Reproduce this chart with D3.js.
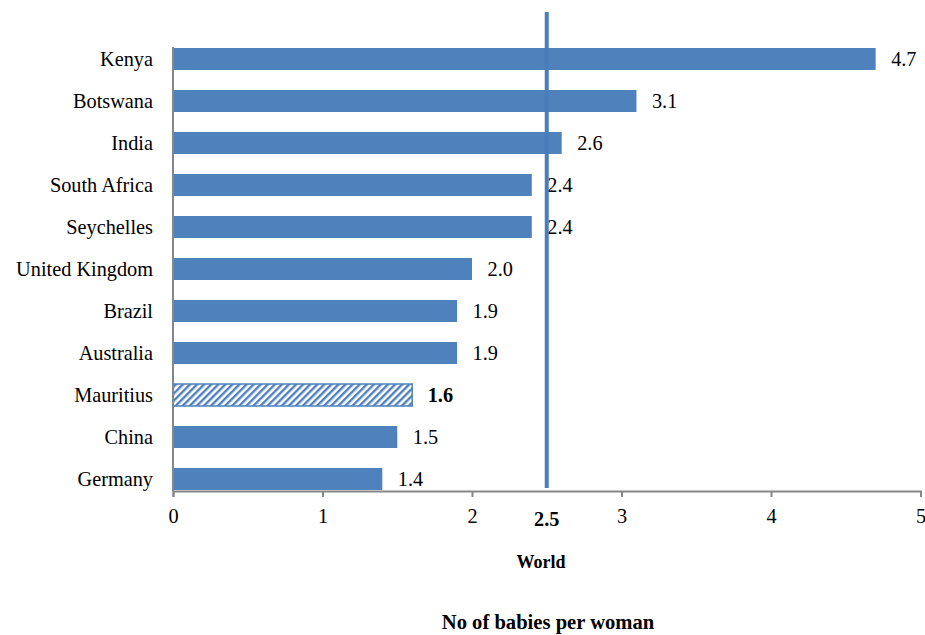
<!DOCTYPE html>
<html>
<head>
<meta charset="utf-8">
<script src="https://cdn.jsdelivr.net/npm/d3@7"></script>
<style>
  html, body { margin: 0; padding: 0; background: #ffffff; }
  svg { display: block; font-family: "Liberation Serif", "Times New Roman", serif; }
</style>
</head>
<body>
<svg id="chart" width="925" height="635"></svg>
<script>
// Total fertility rate by country, with the world average as a reference line
const countries = ["Kenya", "Botswana", "India", "South Africa", "Seychelles",
  "United Kingdom", "Brazil", "Australia", "Mauritius", "China", "Germany"];
const births = [4.7, 3.1, 2.6, 2.4, 2.4, 2.0, 1.9, 1.9, 1.6, 1.5, 1.4];
const highlight = ["Mauritius"];
const worldValue = 2.5;
const worldLabel = "World";
const xTicks = [0, 1, 2, 3, 4, 5];
const xTitle = "No of babies per woman";

const rows = countries.map((c, i) => ({ country: c, value: births[i] }));

const svg = d3.select("#chart");
const barBlue = "#4f81bd";
const axisGrey = "#868686";
const fontSize = 20.3;

const x = d3.scaleLinear().domain([0, 5]).range([173, 920.5]);
const y = d3.scaleBand().domain(countries).range([38, 500])
  .paddingInner(0.476).paddingOuter(0.238);
const axisY = 491;

// diagonal hatch for the highlighted country
const defs = svg.append("defs");
const pat = defs.append("pattern")
  .attr("id", "hatch")
  .attr("patternUnits", "userSpaceOnUse")
  .attr("width", 5).attr("height", 5)
  .attr("patternTransform", "rotate(45)");
pat.append("rect").attr("width", 5).attr("height", 5).attr("fill", "#ffffff");
pat.append("rect").attr("x", 0).attr("width", 2.4).attr("height", 5).attr("fill", barBlue);

// bars
svg.append("g").selectAll("rect")
  .data(rows)
  .join("rect")
  .attr("x", x(0))
  .attr("y", d => y(d.country))
  .attr("width", d => x(d.value) - x(0))
  .attr("height", y.bandwidth())
  .attr("fill", d => highlight.includes(d.country) ? "url(#hatch)" : barBlue)
  .attr("stroke", d => highlight.includes(d.country) ? barBlue : "none")
  .attr("stroke-width", 1.5);

// value labels
svg.append("g").selectAll("text")
  .data(rows)
  .join("text")
  .attr("x", d => x(d.value) + 15.5)
  .attr("y", d => y(d.country) + y.bandwidth() / 2)
  .attr("dy", "0.35em")
  .attr("font-size", fontSize)
  .attr("font-weight", d => highlight.includes(d.country) ? "bold" : "normal")
  .attr("fill", "#000")
  .text(d => d.value.toFixed(1));

// category axis
svg.append("line")
  .attr("x1", x(0)).attr("x2", x(0))
  .attr("y1", 47).attr("y2", axisY)
  .attr("stroke", axisGrey).attr("stroke-width", 2);

svg.append("g").selectAll("text")
  .data(countries)
  .join("text")
  .attr("x", 153)
  .attr("y", d => y(d) + y.bandwidth() / 2)
  .attr("dy", "0.35em")
  .attr("text-anchor", "end")
  .attr("font-size", fontSize)
  .attr("fill", "#000")
  .text(d => d);

// value axis
const xAxis = svg.append("g")
  .attr("transform", `translate(0,${axisY})`)
  .call(d3.axisBottom(x).tickValues(xTicks).tickFormat(d3.format("d"))
    .tickSize(6).tickPadding(12));
xAxis.select(".domain").attr("stroke", axisGrey).attr("stroke-width", 2);
xAxis.selectAll(".tick line").attr("stroke", axisGrey).attr("stroke-width", 2);
xAxis.selectAll(".tick text")
  .attr("font-family", "Liberation Serif, Times New Roman, serif")
  .attr("font-size", fontSize).attr("fill", "#000");

// world average reference line
svg.append("line")
  .attr("x1", x(worldValue)).attr("x2", x(worldValue))
  .attr("y1", 12).attr("y2", 488)
  .attr("stroke", "#4a7ebb").attr("stroke-width", 4);

svg.append("text")
  .attr("x", x(worldValue))
  .attr("y", 526)
  .attr("text-anchor", "middle")
  .attr("font-size", fontSize).attr("font-weight", "bold")
  .text(worldValue.toFixed(1));

svg.append("text")
  .attr("x", 541)
  .attr("y", 568)
  .attr("text-anchor", "middle")
  .attr("font-size", 18).attr("font-weight", "bold")
  .text(worldLabel);

svg.append("text")
  .attr("x", 548)
  .attr("y", 629)
  .attr("text-anchor", "middle")
  .attr("font-size", 20.6).attr("font-weight", "bold")
  .text(xTitle);
</script>
</body>
</html>
